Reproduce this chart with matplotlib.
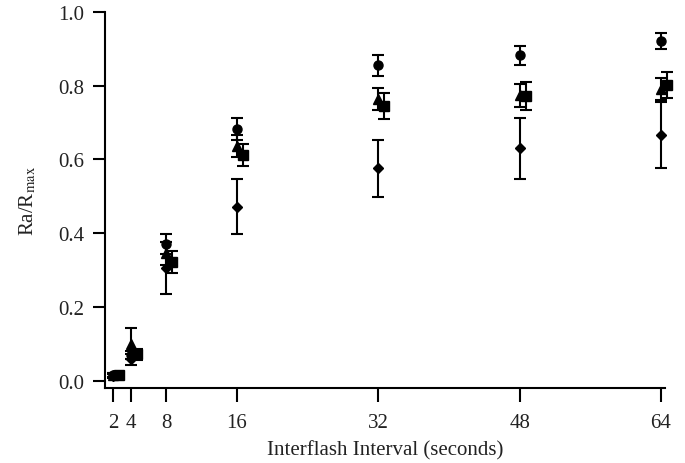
import numpy as np
import matplotlib
matplotlib.use('Agg')
import matplotlib.pyplot as plt

plt.rcParams['font.family'] = ['Liberation Serif', 'DejaVu Serif']
plt.rcParams['mathtext.fontset'] = 'stix'

intervals = [2, 4, 8, 16, 32, 48, 64]

circle_y = [0.015, 0.07, 0.37, 0.682, 0.855, 0.882, 0.922]
circle_err = [0.005, 0.01, 0.027, 0.03, 0.028, 0.027, 0.022]

triangle_y = [0.015, 0.10, 0.345, 0.636, 0.765, 0.774, 0.792]
triangle_err = [0.005, 0.042, 0.03, 0.03, 0.03, 0.031, 0.03]

square_y = [0.016, 0.072, 0.322, 0.612, 0.746, 0.771, 0.803]
square_err = [0.005, 0.015, 0.03, 0.03, 0.035, 0.038, 0.035]

diamond_y = [0.012, 0.058, 0.305, 0.472, 0.576, 0.63, 0.667]
diamond_err = [0.005, 0.015, 0.07, 0.075, 0.078, 0.083, 0.09]

fig = plt.figure(figsize=(6.85, 4.64), dpi=100)
ax = fig.add_axes([0.1533, 0.1616, 0.8175, 0.8104])

x = np.array(intervals, dtype=float)
style = dict(color='black', linestyle='none', capsize=4, capthick=1.5, elinewidth=1.5)
series = [
    (x, diamond_y, diamond_err, 'D', 5.5),
    (x, circle_y, circle_err, 'o', 6.5),
    (x, triangle_y, triangle_err, '^', 7),
    (x + 0.7, square_y, square_err, 's', 6.5),
]
for xs, ys, es, m, ms in series:
    cont = ax.errorbar(xs, ys, yerr=es, marker=m, markersize=ms, **style)
    arts = [cont.lines[0]] + list(cont.lines[1]) + list(cont.lines[2])
    for art in arts:
        art.set_clip_on(False)

ax.set_xlim(1.1, 64.45)
ax.set_ylim(-0.02, 1.0)
ax.set_xticks(intervals)
ax.set_yticks([0.0, 0.2, 0.4, 0.6, 0.8, 1.0])
ax.set_yticklabels(['0.0', '0.2', '0.4', '0.6', '0.8', '1.0'])

ax.spines['top'].set_visible(False)
ax.spines['right'].set_visible(False)
ax.spines['left'].set_linewidth(1.5)
ax.spines['bottom'].set_linewidth(1.5)
ax.tick_params(axis='both', direction='out', width=1.5, labelsize=15, labelcolor='#222222')
ax.tick_params(axis='y', length=9, pad=6)
ax.tick_params(axis='x', length=10, pad=8)

ax.set_xlabel('Interflash Interval (seconds)', fontsize=15, labelpad=6, color='#222222')
ax.set_ylabel(r'Ra/R$_{\mathrm{max}}$', fontsize=15, labelpad=14, color='#222222')

fig.savefig('out.png', dpi=100)
